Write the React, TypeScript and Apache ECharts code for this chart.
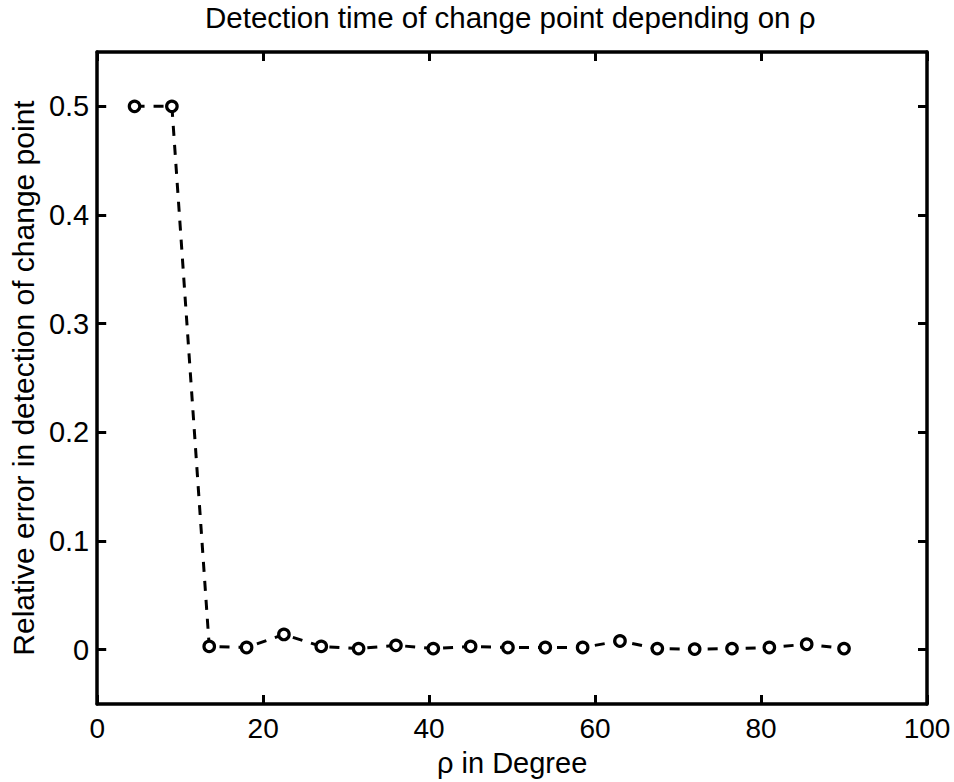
import React, { useEffect, useRef } from "react";
import * as echarts from "echarts";

const titleText = "Detection time of change point depending on ρ";
const xName = "ρ in Degree";
const yName = "Relative error in detection of change point";

const rhoDegrees = [4.5, 9, 13.5, 18, 22.5, 27, 31.5, 36, 40.5, 45, 49.5, 54, 58.5, 63, 67.5, 72, 76.5, 81, 85.5, 90];
const relErrors = [0.5, 0.5, 0.003, 0.002, 0.014, 0.003, 0.001, 0.004, 0.001, 0.003, 0.002, 0.002, 0.002, 0.008, 0.001, 0.0005, 0.001, 0.002, 0.005, 0.001];

const xTicks = [0, 20, 40, 60, 80, 100];
const yTicks = [0, 0.1, 0.2, 0.3, 0.4, 0.5];

const FONT = "'Liberation Sans', Arial, sans-serif";

export default function App() {
  const ref = useRef<HTMLDivElement>(null);
  useEffect(() => {
    if (!ref.current) return;
    const chart = echarts.init(ref.current, null, { renderer: "svg" });
    const lineStyle = { color: "#000", width: 3.5 };
    const tick = { show: true, inside: true, length: 9, lineStyle: { color: "#000", width: 3 } };
    const points = rhoDegrees.map((x, i) => [x, relErrors[i]]);
    chart.setOption({
      animation: false,
      backgroundColor: "#fff",
      title: {
        text: titleText,
        left: 205,
        top: 2,
        padding: 0,
        textStyle: { fontFamily: FONT, fontSize: 29.5, fontWeight: "normal", color: "#000" },
      },
      grid: { left: 95, right: 27, top: 52, bottom: 75, containLabel: false },
      xAxis: [
        {
          type: "value",
          min: 0,
          max: 100,
          interval: 20,
          position: "bottom",
          name: xName,
          nameLocation: "middle",
          nameGap: 44,
          nameTextStyle: { fontFamily: FONT, fontSize: 29, color: "#000" },
          axisLine: { show: true, onZero: false, lineStyle },
          axisTick: { ...tick, customValues: xTicks },
          axisLabel: { customValues: xTicks, fontFamily: FONT, fontSize: 28, color: "#000", margin: 10 },
          splitLine: { show: false },
        },
        {
          type: "value",
          min: 0,
          max: 100,
          interval: 20,
          position: "top",
          axisLine: { show: true, onZero: false, lineStyle },
          axisTick: { ...tick, customValues: xTicks },
          axisLabel: { show: false },
          splitLine: { show: false },
        },
      ],
      yAxis: [
        {
          type: "value",
          min: -0.05,
          max: 0.55,
          position: "left",
          name: yName,
          nameLocation: "middle",
          nameGap: 59,
          nameTextStyle: { fontFamily: FONT, fontSize: 30, color: "#000" },
          axisLine: { show: true, onZero: false, lineStyle },
          axisTick: { ...tick, customValues: yTicks },
          axisLabel: {
            customValues: yTicks,
            fontFamily: FONT,
            fontSize: 29,
            color: "#000",
            margin: 8,
            formatter: (v: number) => String(Math.round(v * 10) / 10),
          },
          splitLine: { show: false },
        },
        {
          type: "value",
          min: -0.05,
          max: 0.55,
          position: "right",
          axisLine: { show: true, onZero: false, lineStyle },
          axisTick: { ...tick, customValues: yTicks },
          axisLabel: { show: false },
          splitLine: { show: false },
        },
      ],
      series: [
        {
          type: "line",
          xAxisIndex: 0,
          yAxisIndex: 0,
          data: points,
          showSymbol: false,
          symbol: "none",
          lineStyle: { color: "#000", width: 3, type: [10, 9] },
          z: 2,
        },
        {
          type: "scatter",
          xAxisIndex: 0,
          yAxisIndex: 0,
          data: points,
          symbol: "circle",
          symbolSize: 10.5,
          itemStyle: { color: "#fff", borderColor: "#000", borderWidth: 3.2, opacity: 1 },
          z: 3,
        },
      ],
    });
    return () => chart.dispose();
  }, []);
  return <div ref={ref} style={{ width: 954, height: 782, position: "absolute", left: 0, top: 0 }} />;
}
